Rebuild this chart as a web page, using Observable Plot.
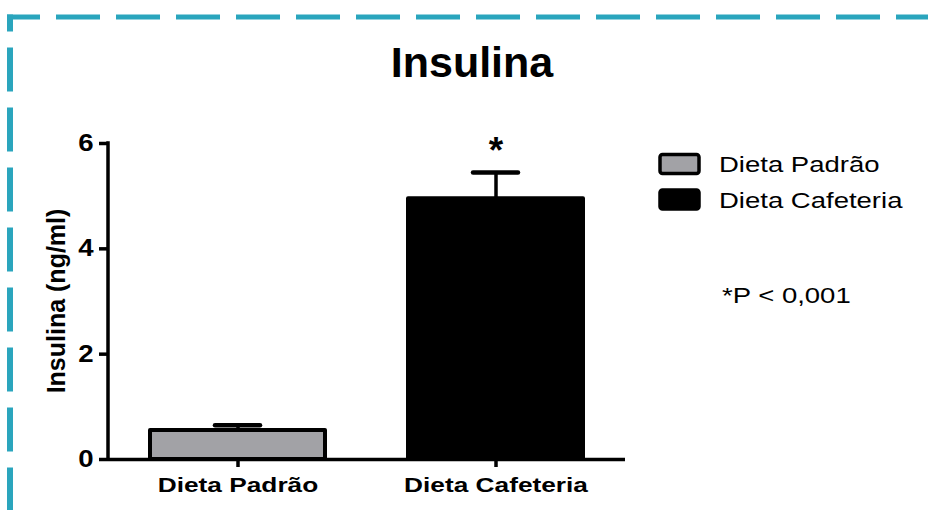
<!DOCTYPE html>
<html>
<head>
<meta charset="utf-8">
<script src="https://cdn.jsdelivr.net/npm/d3@7"></script>
<script src="https://cdn.jsdelivr.net/npm/@observablehq/plot@0.6"></script>
<style>
  html, body { margin: 0; padding: 0; background: #fff; }
  #chart svg { display: block; }
  #chart g[aria-label="x-axis"] line,
  #chart g[aria-label="y-axis"] line,
  #chart g[aria-label="x-axis tick"] path,
  #chart g[aria-label="y-axis tick"] path,
  #chart g[aria-label="x-axis tick"] line,
  #chart g[aria-label="y-axis tick"] line { stroke-width: 3.5px; stroke: #000; }
  #chart g[aria-label="x-axis"] path.domain,
  #chart g[aria-label="y-axis"] path.domain { display: none; }
</style>
</head>
<body>
<div id="chart"></div>
<script>
// Serum insulin by diet group (mean ± SEM)
const groups = ["Dieta Padrão", "Dieta Cafeteria"];
const means = [0.55, 4.95];
const sems = [0.10, 0.50];
const significant = [false, true];
const fills = ["#a2a2a6", "#000000"];
const yTicks = [0, 2, 4, 6];
const title = "Insulina";
const yLabel = "Insulina (ng/ml)";
const pNote = "*P < 0,001";

const rows = groups.map((group, i) => ({
  group, mean: means[i], sem: sems[i], sig: significant[i], fill: fills[i]
}));

const font = "'Liberation Sans', Arial, Helvetica, sans-serif";
const W = 928, H = 510;
const mLeft = 108, mRight = 303, mTop = 143, mBottom = 51;

const plot = Plot.plot({
  width: W,
  height: H,
  marginLeft: mLeft,
  marginRight: mRight,
  marginTop: mTop,
  marginBottom: mBottom,
  style: { fontFamily: font, fontSize: "21px", fontWeight: "bold", color: "#000", background: "#fff" },
  x: { domain: groups, paddingInner: 0.32, paddingOuter: 0.16, tickSize: 8, tickPadding: 10, label: null },
  y: { domain: [0, 6], ticks: yTicks, tickFormat: d => String(d), tickSize: 9, tickPadding: 6, label: null },
  marks: [
    Plot.barY(rows, { x: "group", y: "mean", fill: "fill", stroke: "#000", strokeWidth: 4, strokeLinejoin: "round" }),
    Plot.ruleX(rows, { x: "group", y1: "mean", y2: d => d.mean + d.sem, stroke: "#000", strokeWidth: 3.5 }),
    Plot.tickY(rows, { x: "group", y: d => d.mean + d.sem, insetLeft: 65, insetRight: 65, stroke: "#000", strokeWidth: 4.5, strokeLinecap: "round" }),
    Plot.ruleY([0], { stroke: "#000", strokeWidth: 3.5 }),
    Plot.text(rows.filter(d => d.sig), { x: "group", y: d => d.mean + d.sem, text: () => "*", fontSize: 37, fontWeight: "bold", dy: -21, ariaLabel: "significance" })
  ]
});

document.getElementById("chart").append(plot);
const svg = d3.select(plot);
const y = plot.scale("y");

// y tick labels a little larger than the category labels
svg.selectAll('g[aria-label^="y-axis"] text')
  .style("font-size", "23px").style("font-weight", "bold");

// vertical axis line
svg.append("line")
  .attr("x1", mLeft).attr("x2", mLeft)
  .attr("y1", y.apply(6) - 1.75).attr("y2", y.apply(0) + 1.75)
  .attr("stroke", "#000").attr("stroke-width", 3.5);

// dashed panel border (top and left edges)
const border = svg.append("g").attr("stroke", "#2aa5bd").attr("fill", "none").attr("stroke-dasharray", "44 16");
border.append("line").attr("x1", 7).attr("x2", W).attr("y1", 17).attr("y2", 17)
  .attr("stroke-width", 5).attr("stroke-dashoffset", 11);
border.append("line").attr("x1", 10).attr("x2", 10).attr("y1", 14.5).attr("y2", H)
  .attr("stroke-width", 6).attr("stroke-dashoffset", 27);

// title
svg.append("text")
  .attr("x", 472).attr("y", 77)
  .attr("text-anchor", "middle")
  .attr("font-family", font).attr("font-size", 43).attr("font-weight", "bold")
  .text(title);

// y axis title
svg.append("text")
  .attr("transform", `translate(56,${(mTop + H - mBottom) / 2}) rotate(-90)`)
  .attr("text-anchor", "middle").attr("dy", "0.35em")
  .attr("font-family", font).attr("font-size", 25).attr("font-weight", "bold")
  .text(yLabel);

// legend
const legend = svg.append("g")
  .attr("font-family", font).attr("font-size", 22).attr("font-weight", "normal")
  .attr("text-anchor", "start");
rows.forEach((d, i) => {
  const cy = 164 + i * 35.5;
  legend.append("rect")
    .attr("x", 660).attr("y", cy - 9.5).attr("width", 39).attr("height", 19)
    .attr("rx", 2.5).attr("fill", d.fill).attr("stroke", "#000").attr("stroke-width", 3.5);
  legend.append("text").attr("class", "wide")
    .attr("x", 719).attr("y", cy + 8)
    .text(d.group);
});
legend.append("text").attr("class", "wide")
  .attr("x", 722).attr("y", 303)
  .text(pNote);

// horizontally widened lettering
function widen(selection, k) {
  selection.each(function () {
    const w = this.getComputedTextLength();
    this.setAttribute("textLength", w * k);
    this.setAttribute("lengthAdjust", "spacingAndGlyphs");
  });
}
widen(svg.selectAll("text.wide"), 1.25);
widen(svg.selectAll('g[aria-label^="x-axis"] text'), 1.25);
widen(svg.selectAll('g[aria-label^="y-axis"] text'), 1.2);
widen(svg.selectAll('g[aria-label="significance"] text'), 1.15);
</script>
</body>
</html>
